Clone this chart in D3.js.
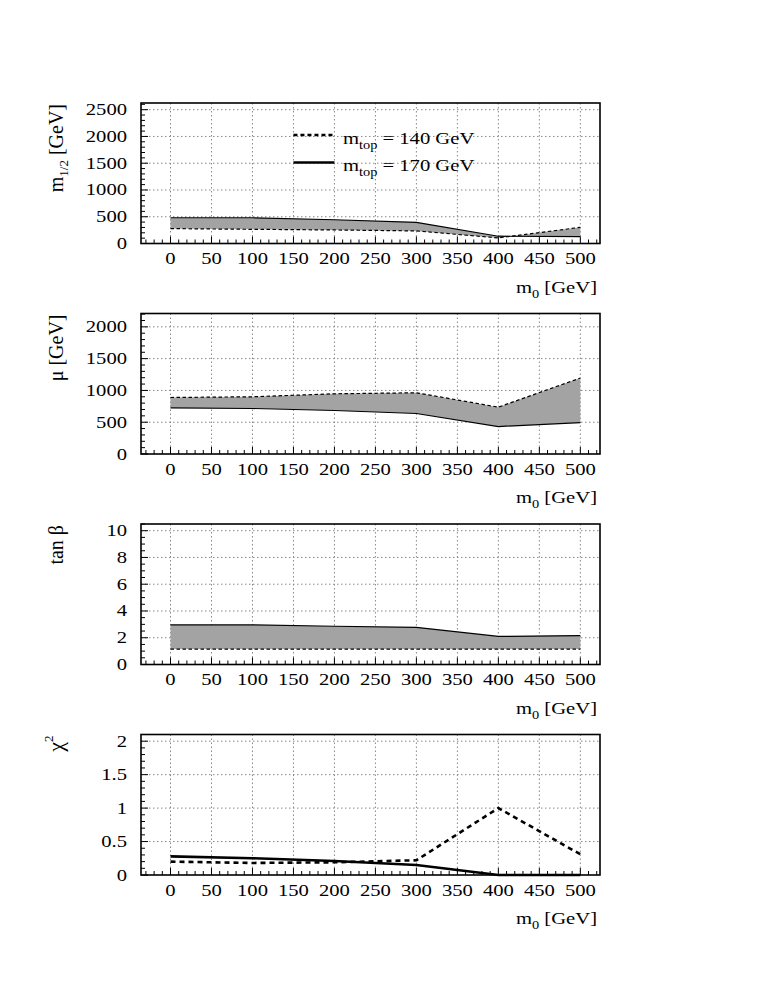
<!DOCTYPE html>
<html><head><meta charset="utf-8">
<script src="https://cdn.jsdelivr.net/npm/d3@7/dist/d3.min.js"></script>
<style>
html,body{margin:0;padding:0;background:#fff;}
svg text{font-family:"Liberation Serif","DejaVu Serif",serif;}
</style></head>
<body>
<svg id="c" width="763" height="981" font-family="Liberation Serif, DejaVu Serif, serif"></svg>
<script>
// ---- data ----
const m0 = [0, 100, 200, 300, 400, 500];
const m12_140 = [278, 265, 253, 235, 105, 302];
const m12_170 = [481, 481, 444, 395, 136, 128];
const mu_140 = [889, 900, 947, 963, 737, 1195];
const mu_170 = [726, 716, 684, 637, 432, 495];
const tb_140 = [1.15, 1.15, 1.15, 1.15, 1.15, 1.15];
const tb_170 = [2.96, 2.96, 2.86, 2.78, 2.1, 2.16];
const chi_140 = [0.2, 0.18, 0.19, 0.22, 1.0, 0.31];
const chi_170 = [0.278, 0.25, 0.21, 0.15, 0, 0];
const xTicks = [0, 50, 100, 150, 200, 250, 300, 350, 400, 450, 500];
const legendLabels = ["140 GeV", "170 GeV"];

const panels = [
  {lo: m12_140, hi: m12_170, ymax: 2625, major: 500, minor: 100, title: "m12", band: true, thick: false, legend: true},
  {lo: mu_140, hi: mu_170, ymax: 2210, major: 500, minor: 100, title: "mu", band: true, thick: false},
  {lo: tb_140, hi: tb_170, ymax: 10.5, major: 2, minor: 0.5, title: "tb", band: true, thick: false},
  {lo: chi_140, hi: chi_170, ymax: 2.1, major: 0.5, minor: 0.1, title: "chi", band: false, thick: true}
];

const svg = d3.select("#c");
const L = 141, R = 600, H = 140.5;
const bottoms = [243.5, 454, 664.5, 875];
const x = d3.scaleLinear().domain([-36, 524]).range([L, R]);
const FS = 16.5, SX = 1.25, SUB = 11.5;

function range(a, b, s) { const out = []; const n = Math.round((b - a) / s); for (let i = 0; i <= n; i++) out.push(+(a + i * s).toFixed(6)); return out; }
// horizontally stretched text, as in the reference
function stext(parent, px, py, anchor) {
  return parent.append("g").attr("transform", `translate(${px},${py}) scale(${SX},1)`)
    .append("text").attr("text-anchor", anchor).attr("font-size", FS);
}

panels.forEach((p, i) => {
  const B = bottoms[i], T = B - H;
  const y = d3.scaleLinear().domain([0, p.ymax]).range([B, T]);
  const g = svg.append("g");

  // grid
  const yMajors = range(0, p.ymax, p.major).filter(v => v <= p.ymax + 1e-9);
  g.selectAll(".vg").data(xTicks).join("line")
    .attr("x1", d => x(d)).attr("x2", d => x(d)).attr("y1", T).attr("y2", B)
    .attr("stroke", "#888").attr("stroke-width", 1).attr("stroke-dasharray", "1.5,2.5");
  g.selectAll(".hg").data(yMajors.filter(v => v > 0)).join("line")
    .attr("x1", L).attr("x2", R).attr("y1", d => y(d)).attr("y2", d => y(d))
    .attr("stroke", "#888").attr("stroke-width", 1).attr("stroke-dasharray", "1.5,2.5");

  // band
  const pts = m0.map((d, k) => ({x: d, lo: p.lo[k], hi: p.hi[k]}));
  if (p.band) {
    const area = d3.area().x(d => x(d.x)).y0(d => y(d.lo)).y1(d => y(d.hi));
    g.append("path").attr("d", area(pts)).attr("fill", "#a3a3a3").attr("stroke", "none");
  }
  const line = d3.line().x(d => x(d.x)).y(d => y(d.v));
  const sw = p.thick ? 2.6 : 1.2;
  g.append("path").attr("d", line(pts.map(d => ({x: d.x, v: d.lo}))))
    .attr("fill", "none").attr("stroke", "#000").attr("stroke-width", sw)
    .attr("stroke-dasharray", p.thick ? "5,4" : "3.5,2.5");
  g.append("path").attr("d", line(pts.map(d => ({x: d.x, v: d.hi}))))
    .attr("fill", "none").attr("stroke", "#000").attr("stroke-width", sw);

  // ticks x
  const xMinor = range(-30, 520, 10);
  g.selectAll(".xt").data(xMinor).join("line")
    .attr("x1", d => x(d)).attr("x2", d => x(d)).attr("y1", B)
    .attr("y2", d => B - ((d % 50 === 0 && d >= 0 && d <= 500) ? 7 : 4))
    .attr("stroke", "#000").attr("stroke-width", 1);
  // ticks y
  const yMinor = range(0, p.ymax, p.minor).filter(v => v <= p.ymax + 1e-9);
  g.selectAll(".yt").data(yMinor).join("line")
    .attr("y1", d => y(d)).attr("y2", d => y(d)).attr("x1", L)
    .attr("x2", d => L + (Math.abs(d / p.major - Math.round(d / p.major)) < 1e-6 ? 7 : 4))
    .attr("stroke", "#000").attr("stroke-width", 1);

  // frame
  g.append("rect").attr("x", L).attr("y", T).attr("width", R - L).attr("height", H)
    .attr("fill", "none").attr("stroke", "#000").attr("stroke-width", 1.6);

  // tick labels
  xTicks.forEach(d => stext(g, x(d), B + 20.5, "middle").text(d));
  yMajors.forEach(d => stext(g, L - 14, y(d) + 5.5, "end").text(d));

  // x title
  const xt = stext(g, R - 3, B + 49, "end");
  xt.append("tspan").text("m");
  xt.append("tspan").attr("font-size", SUB).attr("dy", 5).text("0");
  xt.append("tspan").attr("dy", -5).text(" [GeV]");

  // y title
  const yt = g.append("text").attr("transform", `translate(63,${T + 1}) rotate(-90)`)
    .attr("text-anchor", "end").attr("font-size", 20);
  if (p.title === "m12") {
    yt.append("tspan").text("m");
    yt.append("tspan").attr("font-size", 13).attr("dy", 5).text("1/2");
    yt.append("tspan").attr("dy", -5).text(" [GeV]");
  } else if (p.title === "mu") {
    yt.text("μ [GeV]");
  } else if (p.title === "tb") {
    yt.text("tan β");
  } else {
    yt.append("tspan").attr("font-size", 22).text("χ");
    yt.append("tspan").attr("font-size", 13).attr("dy", -10).text("2");
  }

  // legend
  if (p.legend) {
    const ly = [135, 162.5];
    legendLabels.forEach((lab, k) => {
      g.append("line").attr("x1", x(150)).attr("x2", x(200)).attr("y1", ly[k]).attr("y2", ly[k])
        .attr("stroke", "#000").attr("stroke-width", 2.4)
        .attr("stroke-dasharray", k === 0 ? "4,3" : null);
      const t = stext(g, 343, ly[k] + 8.5, "start");
      t.append("tspan").text("m");
      t.append("tspan").attr("font-size", SUB).attr("dy", 5).text("top");
      t.append("tspan").attr("dy", -5).text(" = " + lab);
    });
  }
});
</script>
</body></html>
